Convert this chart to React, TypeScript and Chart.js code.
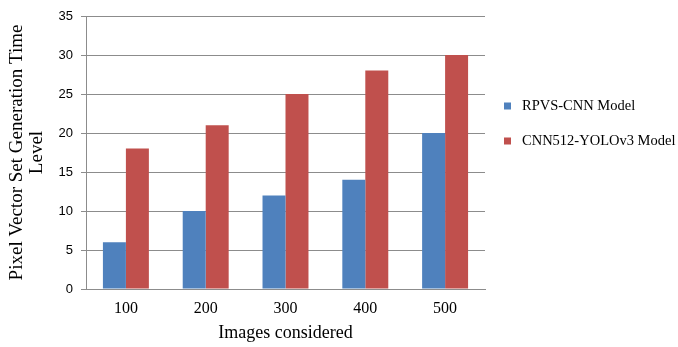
import React, { useEffect, useRef } from "react";
import { Chart, registerables } from "chart.js";

Chart.register(...registerables);

const categories = ["100", "200", "300", "400", "500"];
const rpvsValues = [6, 10, 12, 14, 20];
const yoloValues = [18, 21, 25, 28, 30];
const seriesNames = ["RPVS-CNN Model", "CNN512-YOLOv3 Model"];
const seriesColors = ["#4F81BD", "#C0504D"];
const yTitle = ["Pixel Vector Set Generation Time", "Level"];
const xTitle = "Images considered";

const legendPlugin = {
  id: "customLegend",
  afterDraw(chart: any) {
    const ctx = chart.ctx;
    const ys = [106, 141];
    ctx.save();
    chart.data.datasets.forEach((ds: any, i: number) => {
      const y = ys[i];
      ctx.fillStyle = ds.backgroundColor;
      ctx.fillRect(504, y - 3.5, 7, 7);
      ctx.fillStyle = "#000";
      ctx.font = "14.5px 'Liberation Serif'";
      ctx.textBaseline = "middle";
      ctx.textAlign = "left";
      ctx.fillText(ds.label, 522, y);
    });
    ctx.restore();
  },
};

export default function App() {
  const ref = useRef<HTMLCanvasElement>(null);
  useEffect(() => {
    if (!ref.current) return;
    const chart = new Chart(ref.current, {
      type: "bar",
      data: {
        labels: categories,
        datasets: [
          { label: seriesNames[0], data: rpvsValues, backgroundColor: seriesColors[0] },
          { label: seriesNames[1], data: yoloValues, backgroundColor: seriesColors[1] },
        ],
      },
      options: {
        animation: false,
        responsive: false,
        maintainAspectRatio: false,
        layout: { padding: { left: 0, right: 193, top: 16, bottom: 0 } },
        datasets: { bar: { categoryPercentage: 0.576, barPercentage: 1 } },
        plugins: { legend: { display: false }, tooltip: { enabled: false } },
        scales: {
          x: {
            grid: { display: false, drawTicks: false },
            border: { display: true, color: "#8c8c8c", width: 1 },
            ticks: { color: "#000", font: { family: "'Liberation Serif'", size: 16 }, padding: 10 },
            title: {
              display: true,
              text: xTitle,
              color: "#000",
              font: { family: "'Liberation Serif'", size: 18 },
              padding: { top: 0, bottom: 3 },
            },
            afterFit(scale: any) {
              scale.height = 58;
            },
          },
          y: {
            min: 0,
            max: 35,
            ticks: { stepSize: 5, color: "#000", font: { family: "'Liberation Sans'", size: 13 }, padding: 8 },
            grid: { color: "#8c8c8c", lineWidth: 1, tickLength: 5, drawTicks: true },
            border: { display: true, color: "#8c8c8c", width: 1 },
            title: {
              display: true,
              text: yTitle,
              color: "#000",
              font: { family: "'Liberation Serif'", size: 19, lineHeight: "20px" },
              padding: { top: 7, bottom: 0 },
            },
            afterFit(scale: any) {
              scale.width = 86;
            },
          },
        },
      },
      plugins: [legendPlugin],
    });
    return () => chart.destroy();
  }, []);
  return (
    <div style={{ position: "absolute", left: 0, top: 0, width: 678, height: 347, background: "#fff" }}>
      <canvas ref={ref} width={678} height={347} style={{ width: 678, height: 347, display: "block" }} />
    </div>
  );
}
